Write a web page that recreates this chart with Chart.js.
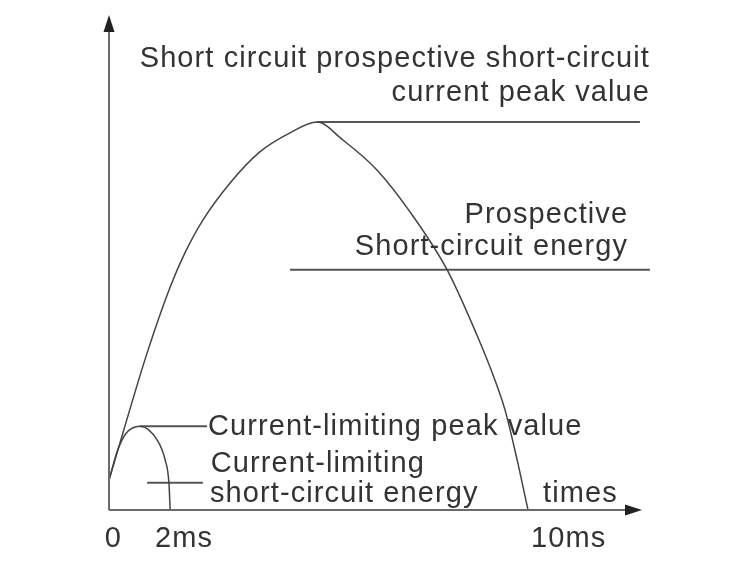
<!DOCTYPE html>
<html>
<head>
<meta charset="utf-8">
<script src="https://cdn.jsdelivr.net/npm/chart.js@4/dist/chart.umd.min.js"></script>
<style>
html,body{margin:0;padding:0;background:#fff;}
#wrap{width:750px;height:571px;position:relative;}
</style>
</head>
<body>
<div id="wrap"><canvas id="c"></canvas></div>
<script>
// Time axis in ms, current in % of prospective peak
const prospX = [0, 0.33, 0.91, 1.46, 1.81, 2.24, 2.89, 3.60, 4.32, 4.96, 5.58, 6.40, 7.18, 8.07, 8.78, 9.21, 9.45, 9.74, 10.0];
const prospY = [7.7, 19.8, 40.5, 57.5, 66.2, 74.7, 84.3, 92.3, 97.2, 100, 95.4, 87.6, 76.9, 61.9, 45.1, 33.5, 25.8, 12.9, 0];
const limitX = [0, 0.21, 0.41, 0.74, 1.15, 1.34, 1.43, 1.46];
const limitY = [7.7, 15.5, 19.8, 21.6, 18.0, 12.9, 7.0, 0];
const peakLineX = [4.96, 12.67];
const peakLineY = [100, 100];
const energyLineX = [4.32, 12.91];
const energyLineY = [61.9, 61.9];
const limPeakLineX = [0.74, 2.34];
const limPeakLineY = [21.6, 21.6];
const limEnergyLineX = [0.91, 2.24];
const limEnergyLineY = [7.0, 7.0];
const tickLabels = ["0", "2ms", "10ms"];
const tickLabelX = [-0.1, 1.10, 10.07];

const pts = (xs, ys) => xs.map((x, i) => ({x: x, y: ys[i]}));

const labels = [
  {text: "Short circuit prospective short-circuit", x: 12.91, y: 114.2, align: "right"},
  {text: "current peak value", x: 12.91, y: 105.4, align: "right"},
  {text: "Prospective", x: 12.39, y: 74.0, align: "right"},
  {text: "Short-circuit energy", x: 12.39, y: 65.7, align: "right"},
  {text: "Current-limiting peak value", x: 2.36, y: 19.3, align: "left"},
  {text: "Current-limiting", x: 2.43, y: 9.8, align: "left"},
  {text: "short-circuit energy", x: 2.41, y: 2.1, align: "left"},
  {text: "times", x: 10.36, y: 2.1, align: "left"}
];

const decor = {
  id: 'decor',
  afterDatasetsDraw(chart) {
    const ctx = chart.ctx;
    const xs = chart.scales.x, ys = chart.scales.y;
    const a = chart.chartArea;
    const x0 = xs.getPixelForValue(0), y0 = ys.getPixelForValue(0);
    ctx.save();
    ctx.strokeStyle = '#6a6a6a';
    ctx.fillStyle = '#222';
    ctx.lineWidth = 2;
    // x axis
    ctx.beginPath();
    ctx.moveTo(x0, y0); ctx.lineTo(a.right - 12, y0); ctx.stroke();
    ctx.beginPath();
    ctx.moveTo(a.right, y0); ctx.lineTo(a.right - 17, y0 - 5.5); ctx.lineTo(a.right - 17, y0 + 5.5); ctx.closePath(); ctx.fill();
    // y axis
    ctx.beginPath();
    ctx.moveTo(x0, y0); ctx.lineTo(x0, a.top + 12); ctx.stroke();
    ctx.beginPath();
    ctx.moveTo(x0, a.top); ctx.lineTo(x0 - 5.5, a.top + 17); ctx.lineTo(x0 + 5.5, a.top + 17); ctx.closePath(); ctx.fill();
    // texts
    ctx.fillStyle = '#333';
    ctx.font = '29px "Liberation Sans", Arial, sans-serif';
    try { ctx.letterSpacing = '1.1px'; } catch (e) {}
    ctx.textBaseline = 'alphabetic';
    labels.forEach(l => {
      ctx.textAlign = l.align;
      ctx.fillText(l.text, xs.getPixelForValue(l.x), ys.getPixelForValue(l.y));
    });
    ctx.textAlign = 'left';
    tickLabels.forEach((t, i) => {
      ctx.fillText(t, xs.getPixelForValue(tickLabelX[i]), ys.getPixelForValue(-9.5));
    });
    ctx.restore();
  }
};

const lineDs = (data, w, col, curved) => ({
  data: data, showLine: true, pointRadius: 0, borderColor: col, borderWidth: w,
  fill: false, clip: false, tension: curved ? 0.4 : 0,
  cubicInterpolationMode: curved ? 'monotone' : 'default'
});

new Chart(document.getElementById('c'), {
  type: 'scatter',
  data: {
    datasets: [
      lineDs(pts(prospX, prospY), 1.5, '#444', true),
      lineDs(pts(limitX, limitY), 1.5, '#444', true),
      lineDs(pts(peakLineX, peakLineY), 2, '#555'),
      lineDs(pts(energyLineX, energyLineY), 2, '#555'),
      lineDs(pts(limPeakLineX, limPeakLineY), 2, '#555'),
      lineDs(pts(limEnergyLineX, limEnergyLineY), 2, '#555')
    ]
  },
  options: {
    responsive: true,
    maintainAspectRatio: false,
    animation: false,
    layout: {padding: {left: 109, right: 108, top: 15, bottom: 61}},
    plugins: {legend: {display: false}, tooltip: {enabled: false}},
    scales: {
      x: {type: 'linear', display: false, min: 0, max: 12.72},
      y: {type: 'linear', display: false, min: 0, max: 127.6}
    }
  },
  plugins: [decor]
});
</script>
</body>
</html>
